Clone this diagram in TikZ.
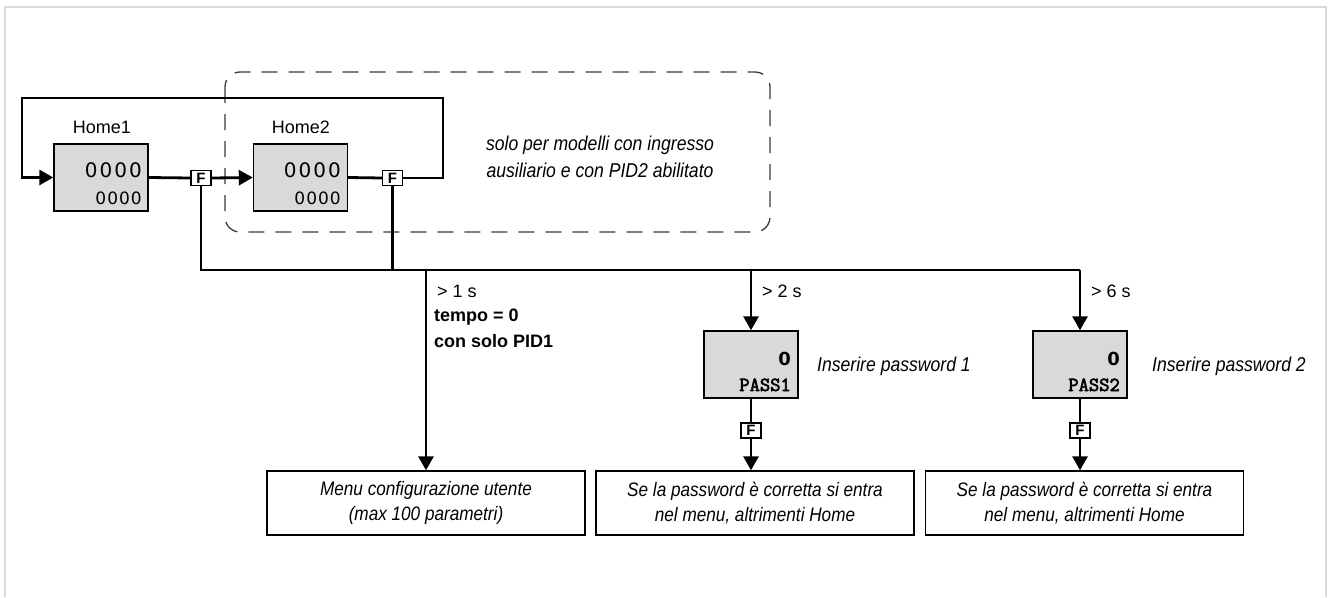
\documentclass[tikz,border=0pt]{standalone}
\usepackage{fontspec}
\setmainfont{Liberation Sans}
\newfontfamily\narrowfont[FakeStretch=0.88]{Liberation Sans}
\newfontfamily\bigdig[LetterSpace=10]{DejaVu Sans}
\newfontfamily\smalldig[LetterSpace=6]{DejaVu Sans}
\newfontfamily\plainfont{DejaVu Sans}
\newfontfamily\passfont[FakeBold=3]{Latin Modern Mono}
\usetikzlibrary{arrows.meta}
\definecolor{boxgray}{HTML}{D9D9D9}
\definecolor{framegray}{HTML}{DADADA}
\definecolor{dashgray}{HTML}{3A3A3A}
\begin{document}
\begin{tikzpicture}[x=1pt,y=-1pt,
  wire/.style={line width=2.8pt,draw=black},
  arr/.style={wire,-{Triangle[length=14pt,width=15pt]}},
  display/.style={draw=black,line width=1.4pt,fill=boxgray,minimum width=94pt,minimum height=67pt,inner sep=0pt},
  fkey/.style={draw=black,line width=1.4pt,fill=white,minimum width=20pt,minimum height=15pt,inner sep=0pt,font=\fontsize{15}{15}\selectfont\bfseries},
  resultbox/.style={draw=black,line width=1.4pt,fill=white,minimum width=318pt,minimum height=64pt,inner sep=0pt,align=center,font=\fontsize{19.5}{25}\selectfont\narrowfont\itshape},
  note/.style={inner sep=0pt,font=\fontsize{20}{27}\selectfont\narrowfont\itshape},
  lbl/.style={inner sep=0pt,font=\fontsize{18}{22}\selectfont},
  bigd/.style={inner sep=0pt,anchor=base east,font=\fontsize{20}{20}\selectfont\bigdig},
  smalld/.style={inner sep=0pt,anchor=base east,font=\fontsize{17}{17}\selectfont\smalldig},
  zerod/.style={inner sep=0pt,anchor=base east,font=\fontsize{18}{18}\selectfont\plainfont\bfseries},
  passd/.style={inner sep=0pt,anchor=base east,font=\fontsize{20}{20}\selectfont\passfont}]
\useasboundingbox (0,0) rectangle (1330,597);
% outer frame
\draw[framegray,line width=2pt] (5,597) -- (5,7) -- (1326,7) -- (1326,597);

% dashed group
\draw[dashgray,line width=1.3pt,dash pattern=on 16pt off 11pt,rounded corners=15pt] (225,72) rectangle (770,232);
\node[note,align=center] (grpnote) at (600,157) {solo per modelli con ingresso\\ausiliario e con PID2 abilitato};

% home displays
\node[display] (home1) at (101,177.5) {};
\node[display] (home2) at (300.5,177.5) {};
\node[lbl,anchor=base] (h1lbl) at (102,133) {Home1};
\node[lbl,anchor=base] (h2lbl) at (301,133) {Home2};
\node[bigd] (h1a) at (142,177) {0000};
\node[smalld] (h1b) at (142,204) {0000};
\node[bigd] (h2a) at (341,177) {0000};
\node[smalld] (h2b) at (341,204) {0000};

% F keys
\node[fkey] (f1) at (201,178) {F};
\node[fkey] (f2) at (392.5,178) {F};

% loop coordinates
\coordinate (lpR) at (443,98);
\coordinate (lpL) at (22,98);
\coordinate (busL) at (201,270);
\coordinate (busR) at (1080,270);
\coordinate (br1) at (426,270);
\coordinate (br2) at (751,270);

\draw[wire] (home1.east) -- (f1.west);
\draw[arr] (f1.east) -- (home2.west);
\draw[wire] (home2.east) -- (f2.west);
\draw[arr] (f2.east) -| (lpR) -- (lpL) |- (home1.west);

% bus
\draw[wire] (f1.south) -- (busL) -- (busR);
\draw[wire] (f2.south) -- (f2 |- busL);

% PASS displays
\node[display] (pass1) at (751,364.5) {};
\node[display] (pass2) at (1080,364.5) {};
\node[zerod] (p1z) at (791,365) {0};
\node[passd] (p1t) at (791,391) {PASS1};
\node[zerod] (p2z) at (1120,365) {0};
\node[passd] (p2t) at (1120,391) {PASS2};
\node[fkey] (f3) at (751,430.5) {F};
\node[fkey] (f4) at (1080,430.5) {F};

% result boxes
\node[resultbox] (menu) at (426,503) {Menu configurazione utente\\(max 100 parametri)};
\node[resultbox] (res1) at (755,503) {Se la password è corretta si entra\\nel menu, altrimenti Home};
\node[resultbox] (res2) at (1084.5,503) {Se la password è corretta si entra\\nel menu, altrimenti Home};

% branches
\draw[arr] (br1) -- (br1 |- menu.north);
\draw[arr] (br2) -- (pass1.north);
\draw[arr] (busR) -- (pass2.north);
\draw[wire] (pass1.south) -- (f3.north);
\draw[arr] (f3.south) -- (f3 |- res1.north);
\draw[wire] (pass2.south) -- (f4.north);
\draw[arr] (f4.south) -- (f4 |- res2.north);

% labels
\node[lbl,anchor=base west] (t1) at (437,297) {> 1 s};
\node[lbl,anchor=base west] (t2) at (762,297) {> 2 s};
\node[lbl,anchor=base west] (t3) at (1091,297) {> 6 s};
\node[lbl,anchor=north west,align=left,font=\fontsize{18}{26}\selectfont\bfseries] (cond) at (434,309) {tempo = 0\\con solo PID1};
\node[note,anchor=west] (pw1) at (817,366) {Inserire password 1};
\node[note,anchor=west] (pw2) at (1152,366) {Inserire password 2};
\end{tikzpicture}
\end{document}
